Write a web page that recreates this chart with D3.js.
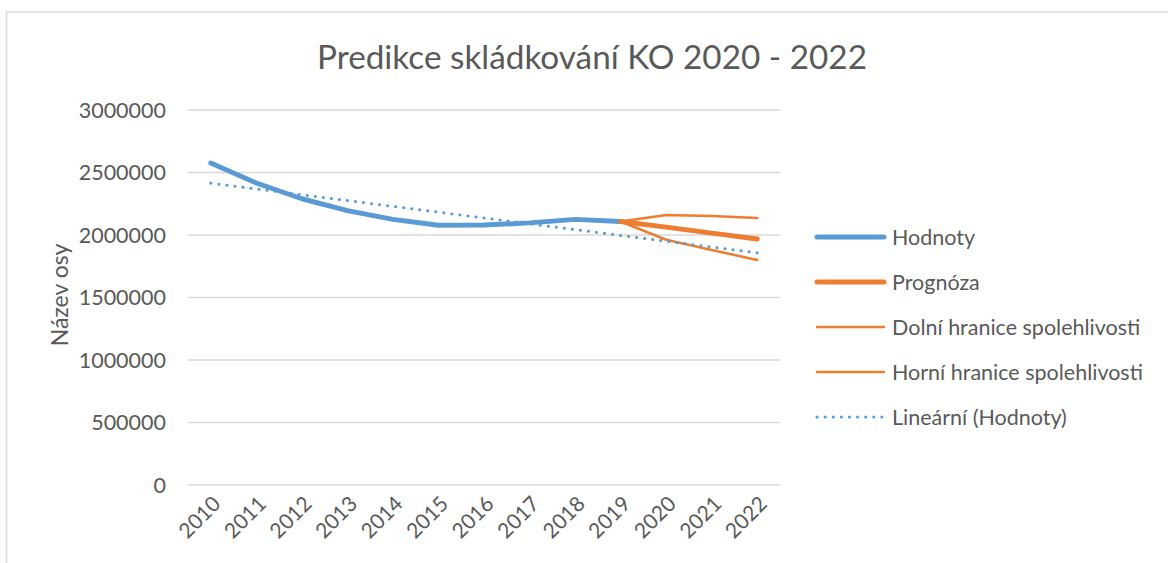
<!DOCTYPE html>
<html>
<head>
<meta charset="utf-8">
<script src="https://cdn.jsdelivr.net/npm/d3@7"></script>
<style>
  body { margin: 0; background: #fff; }
  svg text { font-family: Lato, "Open Sans", sans-serif; fill: #595959; }
</style>
</head>
<body>
<svg id="chart" width="1168" height="563"></svg>
<script>
// data
var years = ["2010","2011","2012","2013","2014","2015","2016","2017","2018","2019","2020","2021","2022"];
var hodnoty = [2576000, 2416000, 2290000, 2195000, 2125000, 2078000, 2080000, 2097000, 2125000, 2108000];
var prognoza = [2108000, 2063000, 2015000, 1968000];     // 2019 - 2022
var dolni = [2108000, 1962000, 1880000, 1800000];
var horni = [2108000, 2160000, 2152000, 2136000];
var trendYears = ["2010", "2022"];
var trend = [2415000, 1857000];
var yTicks = [0, 500000, 1000000, 1500000, 2000000, 2500000, 3000000];

var blue = "#5b9bd5", orange = "#ed7d31";

var svg = d3.select("#chart");

// chart area border
svg.append("rect")
  .attr("x", 6.5).attr("y", 12)
  .attr("width", 1200).attr("height", 600)
  .attr("fill", "none").attr("stroke", "#d9d9d9").attr("stroke-width", 1.5);

var x = d3.scaleBand().domain(years).range([188, 780]);
var y = d3.scaleLinear().domain([0, 3000000]).range([485, 110]);
function cx(yr) { return x(yr) + x.bandwidth() / 2; }

// gridlines
svg.append("g").selectAll("line")
  .data(yTicks)
  .enter().append("line")
    .attr("x1", 188).attr("x2", 780)
    .attr("y1", function(d){ return y(d) }).attr("y2", function(d){ return y(d) })
    .attr("stroke", "#d9d9d9").attr("stroke-width", 1.3);

// y axis labels
svg.append("g").selectAll("text")
  .data(yTicks)
  .enter().append("text")
    .attr("x", 166)
    .attr("y", function(d){ return y(d) })
    .attr("dy", "0.35em")
    .attr("text-anchor", "end")
    .style("font-size", "21.5px")
    .text(function(d){ return d });

// x axis labels
svg.append("g").selectAll("text")
  .data(years)
  .enter().append("text")
    .attr("transform", function(d){ return "translate(" + (cx(d) + 6) + ",500) rotate(-45)" })
    .attr("text-anchor", "end")
    .attr("dy", "0.35em")
    .style("font-size", "21px")
    .text(function(d){ return d });

// titles
svg.append("text")
  .attr("x", 592).attr("y", 69)
  .attr("text-anchor", "middle")
  .style("font-size", "33.3px")
  .text("Predikce skládkování KO 2020 - 2022");

svg.append("text")
  .attr("transform", "translate(68,295) rotate(-90)")
  .attr("text-anchor", "middle")
  .style("font-size", "23px")
  .text("Název osy");

var line = d3.line()
  .x(function(d){ return cx(d[0]) })
  .y(function(d){ return y(d[1]) });

var fcYears = years.slice(9);

function addLine(yrs, vals, color, width, dash) {
  svg.append("path")
    .datum(d3.zip(yrs, vals))
    .attr("d", line)
    .attr("fill", "none")
    .attr("stroke", color)
    .attr("stroke-width", width)
    .attr("stroke-linecap", "round")
    .attr("stroke-linejoin", "round")
    .attr("stroke-dasharray", dash || null);
}

addLine(years.slice(0, 10), hodnoty, blue, 5);
addLine(fcYears, dolni, orange, 2.5);
addLine(fcYears, horni, orange, 2.5);
addLine(fcYears, prognoza, orange, 5);
addLine(trendYears, trend, blue, 3, "0.1 8");

// legend
var legend = [
  {name: "Hodnoty", color: blue, width: 5},
  {name: "Prognóza", color: orange, width: 5},
  {name: "Dolní hranice spolehlivosti", color: orange, width: 2.5},
  {name: "Horní hranice spolehlivosti", color: orange, width: 2.5},
  {name: "Lineární (Hodnoty)", color: blue, width: 3, dash: "0.1 8"}
];

var lg = svg.append("g").selectAll("g")
  .data(legend)
  .enter().append("g")
    .attr("transform", function(d, i){ return "translate(0," + (237 + i * 45) + ")" });

lg.append("line")
  .attr("x1", 817).attr("x2", 884)
  .attr("stroke", function(d){ return d.color })
  .attr("stroke-width", function(d){ return d.width })
  .attr("stroke-linecap", "round")
  .attr("stroke-dasharray", function(d){ return d.dash || null });

lg.append("text")
  .attr("x", 892)
  .attr("dy", "0.35em")
  .style("font-size", "21.5px")
  .text(function(d){ return d.name });
</script>
</body>
</html>
